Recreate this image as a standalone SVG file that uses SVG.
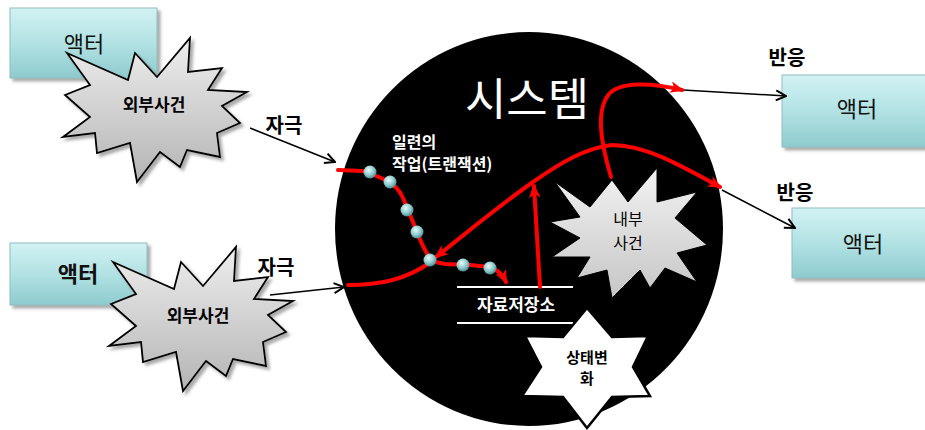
<svg xmlns="http://www.w3.org/2000/svg" width="925" height="430" viewBox="0 0 925 430">
<defs>
<linearGradient id="teal" x1="0" y1="0" x2="0" y2="1">
<stop offset="0" stop-color="#d2f2f3"/>
<stop offset="0.5" stop-color="#b2e2e4"/>
<stop offset="1" stop-color="#8ecbce"/>
</linearGradient>
<linearGradient id="gray" x1="0" y1="0" x2="0" y2="1">
<stop offset="0" stop-color="#eeeeee"/>
<stop offset="1" stop-color="#b4b4b4"/>
</linearGradient>
<linearGradient id="gray2" x1="0" y1="0" x2="0" y2="1">
<stop offset="0" stop-color="#f2f2f2"/>
<stop offset="1" stop-color="#c6c6c6"/>
</linearGradient>
<radialGradient id="bead" cx="0.4" cy="0.35" r="0.65">
<stop offset="0" stop-color="#e8fbfb"/>
<stop offset="0.6" stop-color="#8fc9cc"/>
<stop offset="1" stop-color="#4d8f93"/>
</radialGradient>
<filter id="sh" x="-10%" y="-10%" width="130%" height="130%">
<feDropShadow dx="3" dy="3" stdDeviation="1.5" flood-color="#555" flood-opacity="0.5"/>
</filter>
<marker id="blk" viewBox="0 0 12 12" refX="11" refY="6" markerWidth="12" markerHeight="12" markerUnits="userSpaceOnUse" orient="auto">
<path d="M1,1 L11,6 L1,11" fill="none" stroke="#000" stroke-width="2"/>
</marker>
<marker id="red" viewBox="0 0 12 10" refX="10" refY="5" markerWidth="14" markerHeight="12" markerUnits="userSpaceOnUse" orient="auto">
<path d="M0,0 L12,5 L0,10 L3,5 Z" fill="#ff0000"/>
</marker>
<marker id="redS" viewBox="0 0 12 10" refX="10" refY="5" markerWidth="14" markerHeight="12" markerUnits="userSpaceOnUse" orient="auto-start-reverse">
<path d="M0,0 L12,5 L0,10 L3,5 Z" fill="#ff0000"/>
</marker>
</defs>
<style>
.actor rect{fill:url(#teal);stroke:#8fbcbf;stroke-width:1;filter:url(#sh)}
.lbl{font-family:"Noto Sans CJK KR","Noto Sans",sans-serif;text-anchor:middle}
.act{font-size:22px;fill:#111}
.bold{font-weight:bold}
.burst{fill:url(#gray);stroke:#000;stroke-width:1.8;stroke-linejoin:miter;filter:url(#sh)}
.conn{fill:none;stroke:#000;stroke-width:1.5}
.rl{fill:none;stroke:#ff0000;stroke-width:4;stroke-linecap:round;stroke-linejoin:round}
.wt{fill:#fff}
.start{text-anchor:start}
</style>

<g id="system">
<ellipse cx="529" cy="229" rx="194" ry="197" fill="#000"/>
<text class="lbl wt" x="527" y="116" font-size="45">시스템</text>
<text class="lbl wt bold start" x="392" y="148" font-size="16">일련의</text>
<text class="lbl wt bold start" x="392" y="170" font-size="16">작업(트랜잭션)</text>
</g>

<g id="actor-top-left" class="actor">
<rect x="10" y="8" width="147" height="70"/>
<text class="lbl act" x="84" y="52">액터</text>
</g>
<g id="actor-bottom-left" class="actor">
<rect x="10" y="243" width="137" height="62"/>
<text class="lbl act bold" x="78" y="282">액터</text>
</g>
<g id="actor-right-top" class="actor">
<rect x="782" y="75" width="150" height="72"/>
<text class="lbl act" x="857" y="117">액터</text>
</g>
<g id="actor-right-bottom" class="actor">
<rect x="792" y="208" width="140" height="70"/>
<text class="lbl act" x="863" y="252">액터</text>
</g>

<g id="external-event-top">
<polygon class="burst" points="67,53 128,80 135,53 157,77 190,38 188,72 222,68 208,90 247,92 222,106 240,123 217,133 220,157 187,150 180,167 160,152 137,182 130,143 97,153 95,133 63,137 90,117 65,95 90,85"/>
<text class="lbl bold" x="154" y="111" font-size="17">외부사건</text>
</g>
<g id="external-event-bottom">
<polygon class="burst" points="67,53 128,80 135,53 157,77 190,38 188,72 222,68 208,90 247,92 222,106 240,123 217,133 220,157 187,150 180,167 160,152 137,182 130,143 97,153 95,133 63,137 90,117 65,95 90,85" transform="translate(46,209)"/>
<text class="lbl bold" x="198" y="322" font-size="17">외부사건</text>
</g>

<g id="label-stimulus-1"><text class="lbl bold" x="284" y="133" font-size="20">자극</text></g>
<g id="label-stimulus-2"><text class="lbl bold" x="276" y="275" font-size="20">자극</text></g>
<g id="label-response-1"><text class="lbl bold" x="787" y="65" font-size="20">반응</text></g>
<g id="label-response-2"><text class="lbl bold" x="795" y="200" font-size="20">반응</text></g>

<g id="data-store">
<line x1="457" y1="287" x2="573" y2="287" stroke="#fff" stroke-width="2"/>
<line x1="457" y1="323" x2="573" y2="323" stroke="#fff" stroke-width="2"/>
<text class="lbl wt bold" x="516" y="311" font-size="17">자료저장소</text>
</g>

<g id="internal-event">
<polygon points="555,182 590,207 612,180 628,202 657,168 657,202 697,192 675,218 707,245 677,253 697,282 665,268 650,288 640,270 612,298 607,270 577,278 590,257 552,257 580,238 550,222 580,217" fill="url(#gray2)" stroke="#000" stroke-width="1"/>
<text class="lbl" x="628" y="225" font-size="16">내부</text>
<text class="lbl" x="628" y="249" font-size="16">사건</text>
</g>

<g id="state-change">
<polygon points="587,308 612,337 648,336 633,367 650,396 612,397 587,428 563,397 522,396 541,367 525,336 563,337" fill="#fff" stroke="#000" stroke-width="2.5" stroke-linejoin="miter"/>
<text class="lbl bold" x="587" y="363" font-size="15">상태변</text>
<text class="lbl bold" x="587" y="384" font-size="15">화</text>
</g>

<g id="connectors">
<line class="conn" x1="250" y1="128" x2="335" y2="162" marker-end="url(#blk)"/>
<line class="conn" x1="270" y1="295" x2="344" y2="287" marker-end="url(#blk)"/>
<line class="conn" x1="683" y1="90" x2="786" y2="96" marker-end="url(#blk)"/>
<line class="conn" x1="722" y1="190" x2="795" y2="228" marker-end="url(#blk)"/>
<path class="rl" d="M338,170 L362,171 Q368,171 374,175 L388,181 Q398,187 403,198 L413,222 Q419,238 424,248 L431,261 L445,264 L470,265 L490,267 Q500,270 506,282" marker-end="url(#red)"/>
<path class="rl" d="M348,285 C380,285 405,280 431,262"/>
<path class="rl" d="M436,257 C470,230 500,205 533,182 C560,163 585,148 612,145 C645,145 680,165 720,187" marker-start="url(#redS)" marker-end="url(#red)"/>
<path class="rl" d="M540,287 L534,186" marker-end="url(#red)"/>
<path class="rl" d="M611,177 C600,140 596,110 609,94 C620,82 650,82 682,90" marker-end="url(#red)"/>
<g id="beads">
<circle cx="370" cy="172" r="6.5" fill="url(#bead)"/>
<circle cx="390" cy="182" r="6.5" fill="url(#bead)"/>
<circle cx="407" cy="210" r="6.5" fill="url(#bead)"/>
<circle cx="417" cy="232" r="6.5" fill="url(#bead)"/>
<circle cx="430" cy="260" r="6.5" fill="url(#bead)"/>
<circle cx="463" cy="265" r="6.5" fill="url(#bead)"/>
<circle cx="490" cy="268" r="6.5" fill="url(#bead)"/>
</g>
</g>
</svg>
